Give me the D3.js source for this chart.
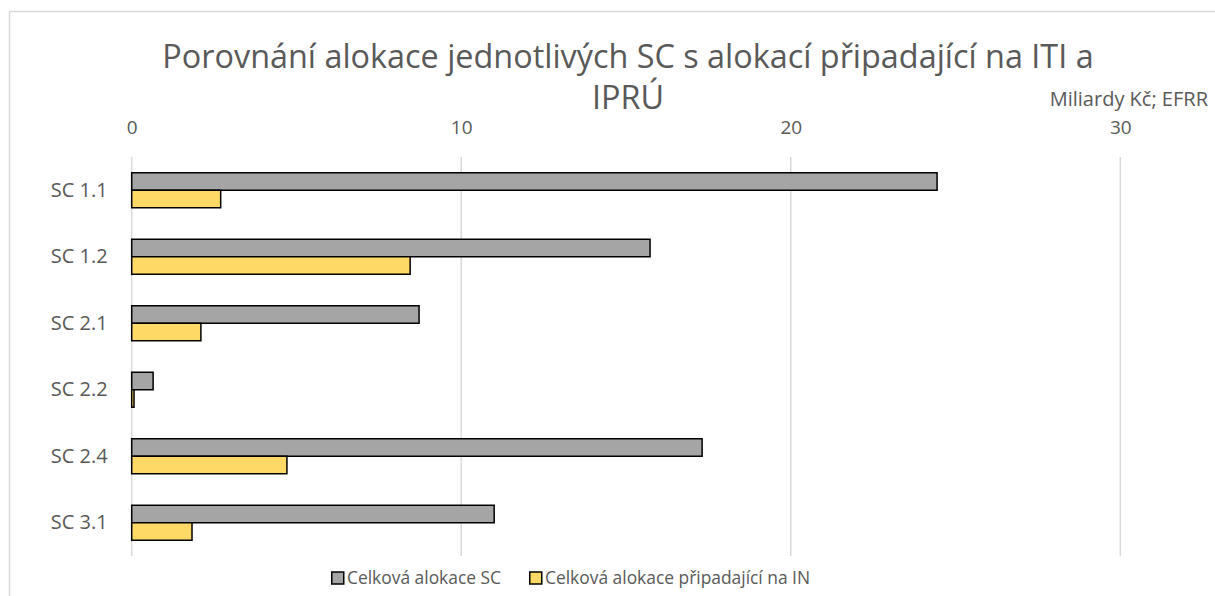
<!DOCTYPE html>
<html>
<head>
<meta charset="utf-8">
<script src="https://cdn.jsdelivr.net/npm/d3@7"></script>
<style>
  html, body { margin: 0; padding: 0; background: #fff; }
  svg { display: block; font-family: "Open Sans", "Noto Sans", sans-serif; }
</style>
</head>
<body>
<svg id="chart" width="1215" height="596"></svg>
<script>
// data
var categories = ["SC 1.1", "SC 1.2", "SC 2.1", "SC 2.2", "SC 2.4", "SC 3.1"];
var seriesNames = ["Celková alokace SC", "Celková alokace připadající na IN"];
var totalSC = [24.44, 15.73, 8.72, 0.65, 17.31, 11.0];
var totalIN = [2.70, 8.45, 2.10, 0.07, 4.71, 1.83];
var xTicks = [0, 10, 20, 30];
var titleLines = ["Porovnání alokace jednotlivých SC s alokací připadající na ITI a", "IPRÚ"];
var unitLabel = "Miliardy Kč; EFRR";

var colors = ["#a5a5a5", "#ffd966"];
var textColor = "#595959";
var gridColor = "#d9d9d9";

var svg = d3.select("#chart");

// chart frame (cut off on right and bottom)
svg.append("rect")
    .attr("x", 9.5)
    .attr("y", 11.5)
    .attr("width", 1215)
    .attr("height", 600)
    .attr("fill", "#fff")
    .attr("stroke", gridColor)
    .attr("stroke-width", 1.5);

var plot = { left: 131.7, right: 1120.3, top: 157, bottom: 556 };

var x = d3.scaleLinear()
    .domain([0, 30])
    .range([plot.left, plot.right]);

var y = d3.scaleBand()
    .domain(categories)
    .range([plot.top, plot.bottom])
    .paddingInner(0.474)
    .paddingOuter(0.237);

var ySub = d3.scaleBand()
    .domain([0, 1])
    .range([0, y.bandwidth()]);

// title
var title = svg.append("text")
    .attr("text-anchor", "middle")
    .attr("fill", textColor)
    .attr("font-size", 30);
title.selectAll("tspan")
    .data(titleLines)
    .enter().append("tspan")
    .attr("x", 628)
    .attr("y", function (d, i) { return 68 + i * 41; })
    .text(function (d) { return d; });

// fit title width to the reference (line 1 ~ 932px)
var w1 = title.select("tspan").node().getComputedTextLength();
title.attr("font-size", 30 * 932 / w1);

// unit label
svg.append("text")
    .attr("x", 1208)
    .attr("y", 106)
    .attr("text-anchor", "end")
    .attr("fill", textColor)
    .attr("font-size", 20)
    .text(unitLabel);

// gridlines
svg.append("g")
    .selectAll("line")
    .data(xTicks)
    .enter().append("line")
    .attr("x1", function (d) { return x(d); })
    .attr("x2", function (d) { return x(d); })
    .attr("y1", plot.top)
    .attr("y2", plot.bottom)
    .attr("stroke", gridColor)
    .attr("stroke-width", 1.5);

// top axis
var xAxis = d3.axisTop(x).tickValues(xTicks).tickSize(0).tickPadding(0);
var gx = svg.append("g")
    .attr("transform", "translate(0,134)")
    .call(xAxis);
gx.select(".domain").remove();
gx.selectAll("text")
    .attr("fill", textColor)
    .attr("font-size", 19)
    .attr("font-family", "Open Sans, Noto Sans, sans-serif");

// left axis
var yAxis = d3.axisLeft(y).tickSize(0).tickPadding(24);
var gy = svg.append("g")
    .attr("transform", "translate(" + plot.left + ",0)")
    .call(yAxis);
gy.select(".domain").remove();
gy.selectAll("text")
    .attr("fill", textColor)
    .attr("font-size", 20)
    .attr("font-family", "Open Sans, Noto Sans, sans-serif");

// bars
var series = [totalSC, totalIN];
var groups = svg.append("g")
    .selectAll("g")
    .data(series)
    .enter().append("g")
    .attr("fill", function (d, i) { return colors[i]; });

groups.selectAll("rect")
    .data(function (d, si) { return d.map(function (v, ci) { return { s: si, c: categories[ci], v: v }; }); })
    .enter().append("rect")
    .attr("x", x(0))
    .attr("y", function (d) { return y(d.c) + ySub(d.s); })
    .attr("width", function (d) { return x(d.v) - x(0); })
    .attr("height", ySub.bandwidth())
    .attr("stroke", "#000")
    .attr("stroke-width", 1.5);

// legend
var legend = svg.append("g")
    .attr("transform", "translate(331,578)");
var lx = 0;
seriesNames.forEach(function (name, i) {
    var item = legend.append("g").attr("transform", "translate(" + lx + ",0)");
    item.append("rect")
        .attr("x", 0.75)
        .attr("y", -6)
        .attr("width", 12)
        .attr("height", 12)
        .attr("fill", colors[i])
        .attr("stroke", "#000")
        .attr("stroke-width", 1.5);
    var t = item.append("text")
        .attr("x", 16)
        .attr("dy", "0.35em")
        .attr("fill", textColor)
        .attr("font-size", 17.4)
        .text(name);
    lx += 16 + t.node().getComputedTextLength() + 28;
});
</script>
</body>
</html>
